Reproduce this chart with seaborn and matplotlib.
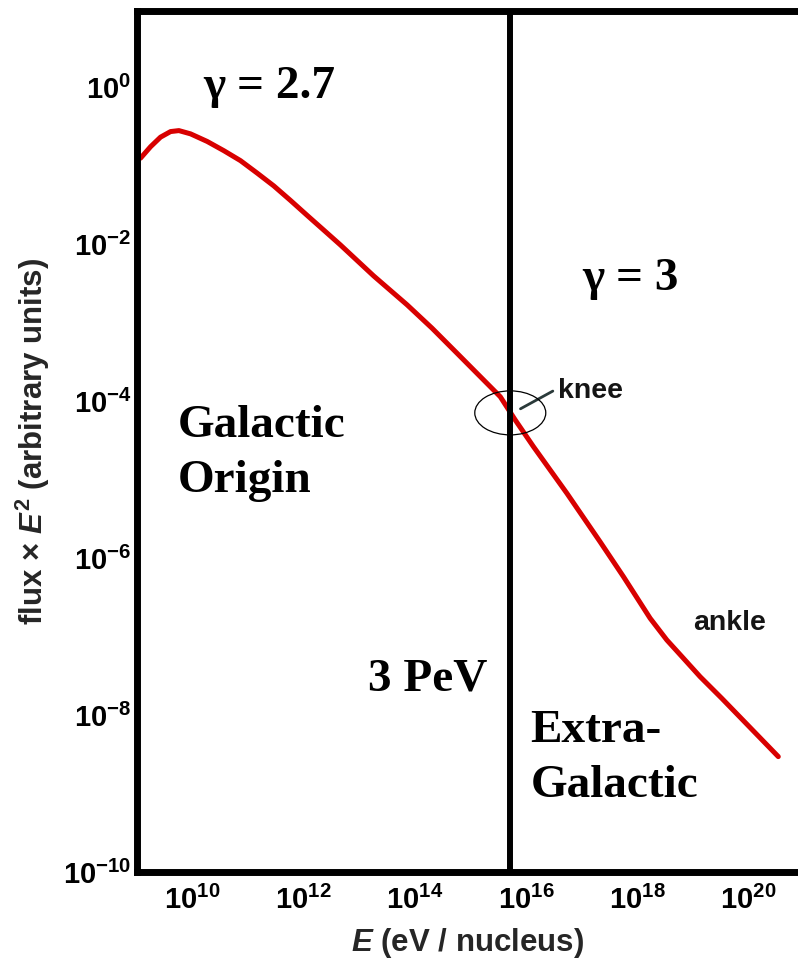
import matplotlib
matplotlib.use("Agg")
import matplotlib.pyplot as plt
from matplotlib import font_manager as fm
from matplotlib.patches import Ellipse
from matplotlib.transforms import ScaledTranslation
import seaborn as sns
import pandas as pd

# ---- data ----
energy_eV = [1.16e9, 1.76e9, 2.65e9, 4.02e9, 5.68e9, 9.20e9, 1.84e10, 3.66e10,
             7.29e10, 1.46e11, 2.90e11, 5.79e11, 1.16e12, 2.30e12, 4.59e12,
             1.82e13, 7.28e13, 2.05e14, 5.77e14, 3.47e15, 6.44e15, 1.37e16,
             5.48e16, 2.18e17, 5.71e17, 1.73e18, 3.45e18, 6.87e18, 1.37e19,
             3.37e19, 3.51e20]
flux_E2 = [0.127, 0.178, 0.235, 0.277, 0.285, 0.259, 0.207, 0.158,
           0.118, 0.0817, 0.0562, 0.0367, 0.0236, 0.01535, 9.93e-3,
           4.00e-3, 1.71e-3, 8.61e-4, 4.13e-4, 1.15e-4, 5.82e-5, 2.66e-5,
           6.76e-6, 1.62e-6, 5.85e-7, 1.72e-7, 9.10e-8, 5.32e-8, 3.10e-8,
           1.64e-8, 2.96e-9]
knee_eV = 5.25e15
knee_flux = 7.16e-5
x_ticks = [1e10, 1e12, 1e14, 1e16, 1e18, 1e20]
x_tick_labels = [r"$10^{10}$", r"$10^{12}$", r"$10^{14}$", r"$10^{16}$", r"$10^{18}$", r"$10^{20}$"]
y_ticks = [1e0, 1e-2, 1e-4, 1e-6, 1e-8, 1e-10]
y_tick_labels = [r"$10^{0}$", r"$10^{-2}$", r"$10^{-4}$", r"$10^{-6}$", r"$10^{-8}$", r"$10^{-10}$"]

df = pd.DataFrame({"E": energy_eV, "flux": flux_E2})

sns.set_theme(style="white")
names = {f.name for f in fm.fontManager.ttflist}
narrow = "Liberation Sans Narrow" if "Liberation Sans Narrow" in names else "Liberation Sans"
serif = "Liberation Serif"
plt.rcParams["font.family"] = [narrow, "DejaVu Sans"]
plt.rcParams["mathtext.fontset"] = "custom"
plt.rcParams["mathtext.rm"] = narrow + ":bold"
plt.rcParams["mathtext.bf"] = narrow + ":bold"
plt.rcParams["mathtext.it"] = narrow + ":italic:bold"
plt.rcParams["mathtext.default"] = "rm"

fig = plt.figure(figsize=(7.98, 9.63), dpi=100)
ax = fig.add_axes([137 / 798, 1 - 872 / 963, (798 - 137) / 798, (872 - 11) / 963])

sns.lineplot(data=df, x="E", y="flux", ax=ax, color="#d80000", linewidth=3.6,
             estimator=None, sort=False)
ax.set_xscale("log")
ax.set_yscale("log")
ax.set_xlim(1e9, 10 ** 20.9)
ax.set_ylim(1e-10, 10 ** 0.98)

ax.set_xticks(x_ticks)
ax.set_xticklabels(x_tick_labels)
ax.set_yticks(y_ticks)
ax.set_yticklabels(y_tick_labels)
ax.minorticks_off()
ax.tick_params(axis="both", direction="in", length=8, width=1.6, color="black",
               labelsize=21, labelcolor="black")
ax.tick_params(axis="x", pad=10)
ax.tick_params(axis="y", pad=4)

for side in ["left", "bottom", "top"]:
    ax.spines[side].set_linewidth(5)
    ax.spines[side].set_color("black")
ax.spines["right"].set_visible(False)

ax.set_xlabel(r"$\it{E}$ (eV / nucleus)", fontsize=22.5, fontweight="bold")
ax.xaxis.set_label_coords(0.5, (872 - 943) / 861)
ax.xaxis.label.set_va("center")
ax.set_ylabel(r"flux × $\it{E}^{2}$ (arbitrary units)", fontsize=22.5, fontweight="bold")
ax.yaxis.set_label_coords((33 - 137) / 661, 0.5)
ax.yaxis.label.set_va("center")

# boundary line at 3 PeV
ax.axvline(knee_eV, color="black", linewidth=4.3, zorder=3)

# knee ellipse (drawn in screen inches around the knee point)
ell_tr = fig.dpi_scale_trans + ScaledTranslation(knee_eV, knee_flux, ax.transData)
ax.add_patch(Ellipse((0, 0), 0.71, 0.44, transform=ell_tr, fill=False,
                     edgecolor="black", linewidth=0.9, zorder=4))
ax.annotate("", xy=(10 ** 15.86, 10 ** -4.11), xytext=(10 ** 16.53, 10 ** -3.85),
            arrowprops=dict(arrowstyle="-", color="#2a3a3a", lw=2))

sans_lbl = dict(family=["Liberation Sans", "DejaVu Sans"], fontsize=20.5,
                fontweight="bold", color="#151515")
ax.text(10 ** 16.58, 10 ** -3.95, "knee", ha="left", va="baseline", **sans_lbl)
ax.text(10 ** 19.01, 10 ** -6.91, "ankle", ha="left", va="baseline", **sans_lbl)

serif_kw = dict(family=[serif, "DejaVu Serif"], fontsize=34, fontweight="bold", color="black")
ax.text(10 ** 10.2, 10 ** -0.13, "γ = 2.7", ha="left", va="baseline", **serif_kw)
ax.text(10 ** 17.01, 10 ** -2.58, "γ = 3", ha="left", va="baseline", **serif_kw)
ax.text(10 ** 9.73, 10 ** -4.45, "Galactic", ha="left", va="baseline", **serif_kw)
ax.text(10 ** 9.73, 10 ** -5.15, "Origin", ha="left", va="baseline", **serif_kw)
ax.text(10 ** 13.15, 10 ** -7.68, "3 PeV", ha="left", va="baseline", **serif_kw)
ax.text(10 ** 16.08, 10 ** -8.34, "Extra-", ha="left", va="baseline", **serif_kw)
ax.text(10 ** 16.08, 10 ** -9.04, "Galactic", ha="left", va="baseline", **serif_kw)

fig.savefig("out.png", dpi=100)
